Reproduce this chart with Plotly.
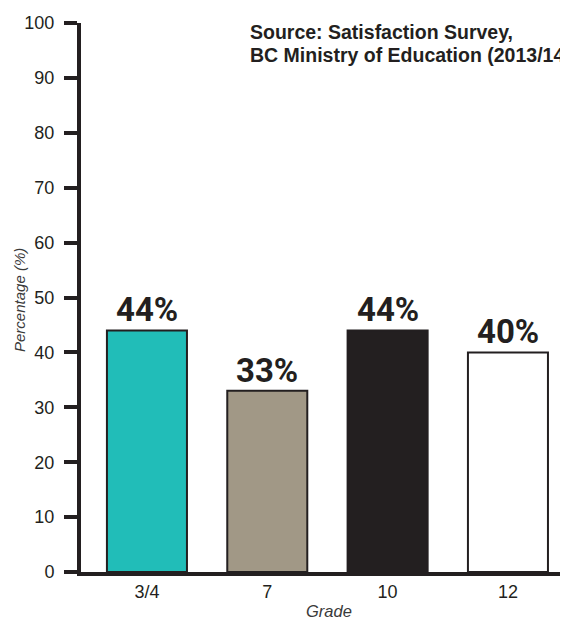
import plotly.graph_objects as go

grades = ["3/4", "7", "10", "12"]
percentages = [44, 33, 44, 40]
bar_colors = ["#21bdb8", "#a19886", "#231f20", "#ffffff"]
y_ticks = [0, 10, 20, 30, 40, 50, 60, 70, 80, 90, 100]

INK = "#231f20"
OFF = 8  # default page body margin
W, H = 568 - OFF, 619 - OFF
L, T, B = 81 - OFF, 23 - OFF, 47
plot_w = W - L
plot_h = H - T - B


def px_x(px):
    return (px - OFF - L) / plot_w


def px_y(py):
    return (H - B - (py - OFF)) / plot_h


fig = go.Figure(
    go.Bar(
        x=grades,
        y=percentages,
        marker=dict(color=bar_colors, line=dict(color=INK, width=2)),
        hoverinfo="skip",
    )
)

# value labels: x given as category index on the category axis
label_annotations = [
    dict(
        x=i, y=v, xref="x", yref="y",
        text=f"{v}%",
        xanchor="center", yanchor="bottom", yshift=-1,
        showarrow=False,
        font=dict(family="Roboto, Liberation Sans, sans-serif", size=33, color=INK, weight="bold"),
    )
    for i, v in enumerate(percentages)
]

fig.update_layout(
    width=W,
    height=H,
    margin=dict(l=L, r=0, t=T, b=B, pad=0),
    paper_bgcolor="white",
    plot_bgcolor="white",
    bargap=0.335,
    showlegend=False,
    font=dict(family="Liberation Sans, Arial, sans-serif", color=INK),
    xaxis=dict(
        type="category",
        range=[-0.548, 3.499],
        showline=True,
        linewidth=4,
        linecolor=INK,
        ticks="",
        showgrid=False,
        zeroline=False,
        tickfont=dict(size=18, color=INK),
        automargin=False,
        fixedrange=True,
    ),
    yaxis=dict(
        range=[0, 100],
        tickvals=y_ticks,
        showline=True,
        linewidth=4,
        linecolor=INK,
        ticks="outside",
        ticklen=13,
        tickwidth=4,
        tickcolor=INK,
        showgrid=False,
        zeroline=False,
        tickfont=dict(size=18, color=INK),
        ticklabelstandoff=6,
        automargin=False,
        fixedrange=True,
    ),
    annotations=label_annotations + [
        dict(
            text="Source: Satisfaction Survey,",
            xref="paper", yref="paper",
            x=px_x(248), y=px_y(40),
            xanchor="left", yanchor="bottom", yshift=-5,
            align="left", showarrow=False,
            font=dict(size=19.5, color=INK, weight="bold"),
        ),
        dict(
            text="BC Ministry of Education (2013/14)",
            xref="paper", yref="paper",
            x=px_x(248), y=px_y(63),
            xanchor="left", yanchor="bottom", yshift=-5,
            align="left", showarrow=False,
            font=dict(size=19.5, color=INK, weight="bold"),
        ),
        dict(
            text="<i>Percentage (%)</i>",
            xref="paper", yref="paper",
            x=px_x(19), y=px_y(300),
            xanchor="center", yanchor="middle",
            textangle=-90, showarrow=False,
            font=dict(size=15, color="#3a3a3a"),
        ),
        dict(
            text="<i>Grade</i>",
            xref="paper", yref="paper",
            x=px_x(329), y=px_y(611),
            xanchor="center", yanchor="middle",
            showarrow=False,
            font=dict(size=16.5, color="#3a3a3a"),
        ),
    ],
)

fig.write_html("out.html")
